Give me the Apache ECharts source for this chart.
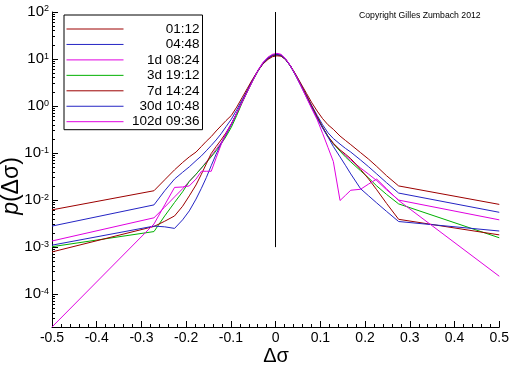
<!DOCTYPE html>
<html><head><meta charset="utf-8">
<script src="https://cdn.jsdelivr.net/npm/echarts@6/dist/echarts.min.js"></script>
<style>html,body{margin:0;padding:0;background:#fff}#c{width:512px;height:366px}</style>
</head><body><div id="c"></div>
<script>
const xValues = [-0.5,-0.272,-0.248,-0.226,-0.208,-0.193,-0.178,-0.166,-0.155,-0.144,-0.133,-0.122,-0.111,-0.099,-0.087,-0.075,-0.063,-0.051,-0.039,-0.028,-0.017,-0.007,0.003,0.012,0.022,0.033,0.045,0.057,0.069,0.081,0.093,0.105,0.117,0.129,0.144,0.156,0.168,0.19,0.208,0.226,0.248,0.275,0.5];

const p_0112 = [6.2e-3,1.58e-2,2.7e-2,4.4e-2,6.3e-2,8.3e-2,0.105,0.138,0.178,0.224,0.295,0.38,0.49,0.63,0.95,1.51,2.4,3.8,5.75,7.9,9.8,11.2,11.7,11.5,9.8,7.2,4.7,2.95,1.86,1.17,0.78,0.54,0.40,0.32,0.23,0.186,0.151,0.102,0.074,0.052,0.033,0.020,8.1e-3];
const p_0448 = [2.8e-3,7.9e-3,1.58e-2,2.8e-2,3.9e-2,5.1e-2,6.9e-2,8.7e-2,0.112,0.145,0.19,0.257,0.363,0.525,0.83,1.35,2.19,3.63,5.75,8.1,10.2,11.7,12.3,12.0,10.0,7.2,4.6,2.8,1.7,1.02,0.63,0.40,0.27,0.204,0.155,0.126,0.105,0.071,0.051,0.036,0.0234,0.0141,5.5e-3];
const p_1d0824 = [1.35e-3,4.2e-3,7.1e-3,1.17e-2,1.74e-2,2.5e-2,3.55e-2,4.8e-2,6.5e-2,8.7e-2,0.12,0.166,0.24,0.40,0.69,1.2,2.09,3.55,5.9,8.5,10.7,12.3,12.9,12.3,10.2,7.2,4.5,2.7,1.58,0.93,0.56,0.35,0.224,0.158,0.112,0.089,0.071,0.048,0.0355,0.026,0.0166,0.010,3.8e-3];
const p_3d1912 = [1.02e-3,2.14e-3,4.6e-3,8.9e-3,1.5e-2,2.5e-2,3.55e-2,4.8e-2,6.3e-2,8.3e-2,0.112,0.155,0.224,0.355,0.63,1.17,2.04,3.47,5.6,8.3,10.5,12.0,12.6,12.0,10.0,7.1,4.5,2.7,1.62,0.95,0.575,0.355,0.23,0.158,0.11,0.083,0.065,0.042,0.0295,0.02,0.0132,8.3e-3,1.58e-3];
const p_7d1424 = [7.9e-4,2.75e-3,3.55e-3,4.6e-3,7.4e-3,1.23e-2,2.1e-2,3.55e-2,5.9e-2,9.8e-2,0.138,0.19,0.27,0.42,0.71,1.23,2.14,3.63,5.75,8.1,10.2,11.7,12.3,11.7,9.8,7.1,4.6,2.75,1.66,0.98,0.59,0.355,0.224,0.162,0.117,0.095,0.076,0.045,0.028,0.0166,8.5e-3,3.9e-3,1.82e-3];
const p_30d1048 = [1.1e-3,2.8e-3,2.7e-3,2.5e-3,3.8e-3,5.9e-3,1.05e-2,1.78e-2,3.0e-2,5.4e-2,9.5e-2,0.158,0.25,0.41,0.71,1.23,2.09,3.55,5.75,8.3,10.5,12.0,12.6,12.0,9.8,7.1,4.4,2.63,1.55,0.91,0.54,0.34,0.22,0.138,0.083,0.055,0.036,0.0174,0.0123,8.7e-3,5.75e-3,3.5e-3,2.2e-3];
const p_102d0936 = [2.0e-5,3.1e-3,7.9e-3,1.86e-2,1.9e-2,2.0e-2,2.8e-2,4.1e-2,4.1e-2,4.1e-2,7.9e-2,0.151,0.263,0.42,0.71,1.2,2.04,3.47,5.75,8.5,11.0,12.6,13.2,12.6,10.2,7.2,4.5,2.63,1.51,0.87,0.51,0.263,0.132,0.066,9.8e-3,1.26e-2,1.62e-2,1.7e-2,2.2e-2,2.8e-2,1.74e-2,9.8e-3,2.4e-4];

const seriesNames = ['01:12','04:48','1d 08:24','3d 19:12','7d 14:24','30d 10:48','102d 09:36'];
const seriesValues = [p_0112,p_0448,p_1d0824,p_3d1912,p_7d1424,p_30d1048,p_102d0936];
const seriesColors = ['#9c0000','#2424c4','#e000e0','#00b000','#9c0000','#2424c4','#e000e0'];
const centerLineX = 0;
const centerLineY = [1e-3, 100];

const FONT = "'Liberation Sans', Arial, sans-serif";
const chart = echarts.init(document.getElementById('c'), null, {renderer: 'canvas'});

const series = seriesNames.map((n, i) => ({
  name: n, type: 'line', symbol: 'none', showSymbol: false, animation: false,
  color: seriesColors[i],
  lineStyle: {color: seriesColors[i], width: 1},
  itemStyle: {color: seriesColors[i]},
  emphasis: {disabled: true},
  data: xValues.map((x, j) => [x, seriesValues[i][j]])
}));
series[0].markLine = {
  silent: true, symbol: 'none', animation: false,
  label: {show: false},
  lineStyle: {color: '#000', width: 1, type: 'solid'},
  emphasis: {disabled: true},
  data: [[{coord: [centerLineX, centerLineY[0]]}, {coord: [centerLineX, centerLineY[1]]}]]
};

chart.setOption({
  animation: false,
  backgroundColor: '#fff',
  color: seriesColors,
  grid: {left: 52, right: 11, top: 12, bottom: 39, containLabel: false},
  xAxis: {
    type: 'value', min: -0.5, max: 0.5, interval: 0.1,
    axisLine: {show: true, onZero: false, lineStyle: {color: '#000', width: 1}},
    axisTick: {show: true, inside: true, length: 6, lineStyle: {color: '#000'}},
    minorTick: {show: true, splitNumber: 5, length: 3, lineStyle: {color: '#000'}},
    splitLine: {show: false},
    axisLabel: {color: '#000', fontSize: 14, fontFamily: FONT, margin: 4,
      formatter: v => (Math.abs(v) < 1e-9 ? '0' : String(Math.round(v * 10) / 10))}
  },
  yAxis: {
    type: 'log', logBase: 10, min: 2e-5, max: 100,
    axisLine: {show: true, onZero: false, lineStyle: {color: '#000', width: 1}},
    axisTick: {show: true, inside: true, length: 6, lineStyle: {color: '#000'}},
    minorTick: {show: true, splitNumber: 9, length: 3, lineStyle: {color: '#000'}},
    splitLine: {show: false},
    axisLabel: {
      showMinLabel: false, margin: 3, color: '#000', fontFamily: FONT,
      formatter: v => {
        const e = Math.round(Math.log10(v));
        if (Math.abs(Math.log10(v) - e) > 0.01) return '';
        return '{b|10}{e|' + e + '}';
      },
      rich: {
        b: {fontSize: 15, fontFamily: FONT, color: '#000', lineHeight: 15, verticalAlign: 'bottom'},
        e: {fontSize: 9, fontFamily: FONT, color: '#000', lineHeight: 9, verticalAlign: 'top', padding: [0, 0, 8, 0]}
      }
    }
  },
  legend: {
    data: seriesNames,
    orient: 'vertical', left: 64, top: 15,
    padding: [7, 3, 1, 2],
    itemWidth: 57, itemHeight: 14, itemGap: 1.45,
    itemStyle: {opacity: 0},
    lineStyle: {width: 1},
    borderColor: '#000', borderWidth: 1, borderRadius: 0,
    backgroundColor: '#fff',
    selectedMode: false,
    formatter: n => '{n|' + n + '}',
    textStyle: {
      color: '#000', fontFamily: FONT, fontSize: 13,
      rich: {n: {width: 71, align: 'right', fontSize: 13.5, fontFamily: FONT, color: '#000', lineHeight: 14}}
    }
  },
  graphic: [
    {type: 'text', left: 359, top: 11, silent: true,
      style: {text: 'Copyright Gilles Zumbach 2012', fontSize: 8.7, fontFamily: FONT, fill: '#000'}},
    {type: 'text', x: 276, y: 356, silent: true,
      style: {text: 'Δσ', fontSize: 20, fontFamily: FONT, fill: '#000', align: 'center', verticalAlign: 'middle'}},
    {type: 'text', x: 12, y: 186, rotation: Math.PI / 2, silent: true,
      style: {text: '{i|p}(Δσ)', fontSize: 23, fontFamily: FONT, fill: '#000', align: 'center', verticalAlign: 'middle',
        rich: {i: {fontStyle: 'italic', fontSize: 23, fontFamily: FONT, fill: '#000'}}}}
  ],
  series: series
});
</script></body></html>
